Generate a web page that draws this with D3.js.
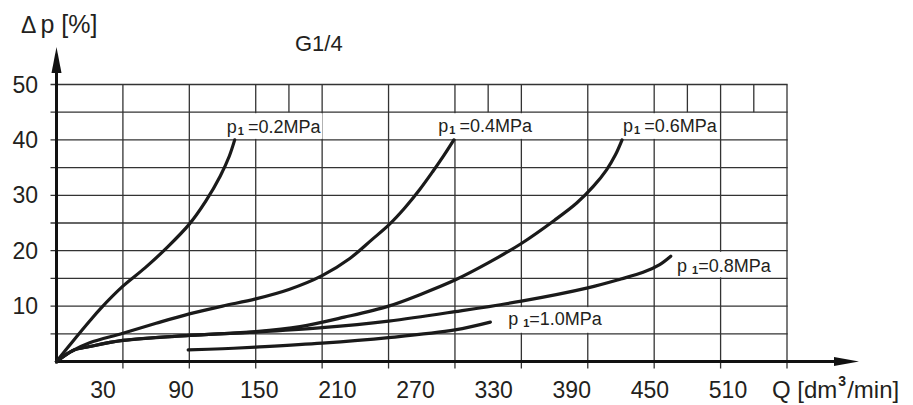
<!DOCTYPE html>
<html>
<head>
<meta charset="utf-8">
<script src="https://cdn.jsdelivr.net/npm/d3@7"></script>
<style>
  body { margin: 0; background: #fff; }
  text { font-family: "Liberation Sans", Arial, sans-serif; fill: #231f20; }
</style>
</head>
<body>
<div id="chart"></div>
<script>
var svgWidth = 913;
var svgHeight = 405;

// grid values (Q in grid units, dp in %)
var qGrid = [0, 60, 120, 180, 240, 300, 360, 420, 480, 540, 600, 660];
var topRowExtra = [210, 390, 570, 630];
var dpGrid = [0, 5, 10, 15, 20, 25, 30, 35, 40, 45, 50];

// tick labels as printed
var qTickLabels = [30, 90, 150, 210, 270, 330, 390, 450, 510];
var dpTickLabels = [10, 20, 30, 40, 50];

// curves: [Q, dp]
var p02 = [[0, 0], [15, 3.7], [30, 7.3], [40, 9.6], [60, 13.6], [80, 16.9], [100, 20.6],
           [120, 24.8], [135, 29], [148, 33.5], [156, 37], [161, 40]];
var p04 = [[0, 0], [15, 2], [30, 3.4], [60, 5.1], [90, 6.9], [120, 8.6], [150, 10],
           [180, 11.3], [210, 13], [240, 15.5], [265, 18.6], [285, 22], [300, 24.6],
           [315, 27.8], [328, 31], [340, 34.3], [350, 37.2], [359, 40]];
var p06 = [[0, 0], [15, 2], [30, 2.7], [60, 3.8], [120, 4.7], [180, 5.4], [220, 6.3],
           [260, 8], [300, 10], [330, 12.2], [360, 14.7], [390, 17.8], [420, 21.3],
           [450, 25.5], [470, 28.6], [485, 31.6], [497, 34.6], [505, 37.3], [511, 40]];
var p08 = [[0, 0], [15, 2], [30, 2.7], [60, 3.8], [120, 4.7], [180, 5.3], [240, 6.1],
           [300, 7.3], [360, 9], [420, 10.9], [480, 13.3], [510, 14.9], [530, 16.1],
           [545, 17.5], [555, 19]];
var p10 = [[119, 2.1], [150, 2.3], [180, 2.6], [240, 3.3], [300, 4.3], [360, 5.7], [392, 7.1]];

var curveNames = ["0.2MPa", "0.4MPa", "0.6MPa", "0.8MPa", "1.0MPa"];
var curves = [p02, p04, p06, p08, p10];

// label anchors for the curve names (Q, dp) and the gap style
var labelAt = [[153.9, 41.3], [344.9, 41.4], [511.9, 41.4], [560.7, 16.2], [408.1, 6.5]];
var gapBeforeSub = [false, false, false, true, true];

var svg = d3.select("#chart")
    .append("svg")
    .attr("width", svgWidth)
    .attr("height", svgHeight);

var x = d3.scaleLinear().domain([0, 660]).range([56.5, 787]);
var y = d3.scaleLinear().domain([0, 50]).range([361.5, 84.5]);
// printed tick labels sit on their own spacing
var xLabel = d3.scaleLinear().domain([30, 510]).range([103, 728]);

var gridColor = "#333";

// layer order
var gVert = svg.append("g");
var gBoxes = svg.append("g");
var gHoriz = svg.append("g");
var gAxes = svg.append("g");
var gCurves = svg.append("g");
var gLabels = svg.append("g");

// vertical grid lines (full height)
gVert.selectAll("line.full")
    .data(qGrid.slice(1))
    .enter().append("line")
    .attr("class", "full")
    .attr("x1", d => x(d)).attr("x2", d => x(d))
    .attr("y1", y(50)).attr("y2", y(0) + 7)
    .attr("stroke", gridColor).attr("stroke-width", 1.3);

// extra verticals in the top row only
gVert.selectAll("line.top")
    .data(topRowExtra)
    .enter().append("line")
    .attr("class", "top")
    .attr("x1", d => x(d)).attr("x2", d => x(d))
    .attr("y1", y(50)).attr("y2", y(45))
    .attr("stroke", gridColor).attr("stroke-width", 1.3);

// curve labels
var labels = gLabels.selectAll("text")
    .data(curveNames)
    .enter().append("text")
    .attr("x", (d, i) => x(labelAt[i][0]))
    .attr("y", (d, i) => y(labelAt[i][1]))
    .attr("font-size", 18);
labels.append("tspan").text("p");
labels.append("tspan")
    .attr("dx", (d, i) => gapBeforeSub[i] ? 5 : 1)
    .attr("dy", 2)
    .attr("font-size", 11)
    .attr("font-weight", "bold")
    .text("1");
labels.append("tspan")
    .attr("dx", (d, i) => gapBeforeSub[i] ? 0 : 4)
    .attr("dy", -2)
    .text(d => "=" + d);

// white boxes knock the grid out behind each label
labels.each(function(d, i) {
  var bb = this.getBBox();
  var lo = Math.floor(labelAt[i][1] / 5) * 5;
  gBoxes.append("rect")
    .attr("x", bb.x - 1)
    .attr("width", bb.width + 2)
    .attr("y", y(lo + 5) + 1)
    .attr("height", y(lo) - y(lo + 5) - 2)
    .attr("fill", "#fff");
});

// horizontal grid lines
gHoriz.selectAll("line")
    .data(dpGrid.slice(1))
    .enter().append("line")
    .attr("x1", x(0) - 6).attr("x2", x(660) + 0.6)
    .attr("y1", d => y(d)).attr("y2", d => y(d))
    .attr("stroke", gridColor).attr("stroke-width", 1.3);

// axes with arrows
gAxes.append("line")
    .attr("x1", x(0)).attr("x2", x(0))
    .attr("y1", y(0) + 2).attr("y2", 66)
    .attr("stroke", "#111").attr("stroke-width", 3);
gAxes.append("path")
    .attr("d", `M${x(0)},47 L${x(0) - 5},73 L${x(0) + 5},73 Z`)
    .attr("fill", "#111");
gAxes.append("line")
    .attr("x1", x(0) - 1).attr("x2", 840)
    .attr("y1", y(0)).attr("y2", y(0))
    .attr("stroke", "#111").attr("stroke-width", 3);
gAxes.append("path")
    .attr("d", `M859,${y(0)} L834,${y(0) - 4.5} L834,${y(0) + 4.5} Z`)
    .attr("fill", "#111");

// curves
var line = d3.line()
    .x(d => x(d[0]))
    .y(d => y(d[1]))
    .curve(d3.curveCatmullRom.alpha(0.5));

gCurves.selectAll("path")
    .data(curves)
    .enter().append("path")
    .attr("d", line)
    .attr("fill", "none")
    .attr("stroke", "#1a1a1a")
    .attr("stroke-width", 3.2)
    .attr("stroke-linecap", "round");

// tick labels
svg.append("g").selectAll("text")
    .data(dpTickLabels)
    .enter().append("text")
    .attr("x", 38)
    .attr("y", d => y(d))
    .attr("dy", "0.35em")
    .attr("text-anchor", "end")
    .attr("font-size", 23)
    .text(d => d);

svg.append("g").selectAll("text")
    .data(qTickLabels)
    .enter().append("text")
    .attr("x", d => xLabel(d))
    .attr("y", 398)
    .attr("text-anchor", "middle")
    .attr("font-size", 23)
    .text(d => d);

// axis titles
var qTitle = svg.append("text")
    .attr("x", 772)
    .attr("y", 398)
    .attr("font-size", 24);
qTitle.append("tspan").text("Q [dm");
qTitle.append("tspan")
    .attr("dx", 1)
    .attr("dy", -12)
    .attr("font-size", 14)
    .attr("font-weight", "bold")
    .text("3");
qTitle.append("tspan")
    .attr("dx", 1)
    .attr("dy", 12)
    .text("/min]");

var dpTitle = svg.append("text")
    .attr("x", 21)
    .attr("y", 33)
    .attr("font-size", 25);
dpTitle.append("tspan").attr("font-size", 23).text("\u0394");
dpTitle.append("tspan").attr("dx", 4).text("p [%]");

svg.append("text")
    .attr("x", 295)
    .attr("y", 51)
    .attr("font-size", 22)
    .text("G1/4");
</script>
</body>
</html>
